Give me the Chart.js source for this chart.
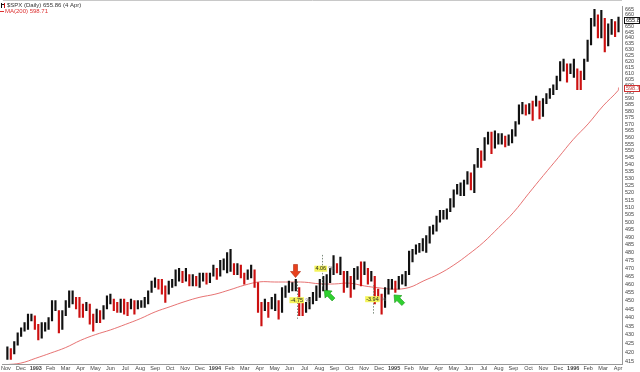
<!DOCTYPE html>
<html>
<head>
<meta charset="utf-8">
<script src="https://cdn.jsdelivr.net/npm/chart.js@4.4.1/dist/chart.umd.min.js"></script>
<style>
  html, body { margin: 0; padding: 0; background: #fff; }
  #wrap { width: 640px; height: 372px; position: relative; }
</style>
</head>
<body>
<div id="wrap"><canvas id="spxCanvas"></canvas></div>
<script>
// weekly high / low of $SPX, week of 2 Nov 1992 up to week of 1 Apr 1996
const weekLows = [
  416, 416, 419, 424, 429, 432, 433, 438, 433, 427, 428, 432, 433, 438, 444, 431, 433, 441, 446, 448,
  445, 440, 440, 444, 436, 432, 437, 437, 439, 445, 448, 444, 443, 443, 442, 441, 445, 442, 445, 446,
  446, 448, 455, 458, 457, 454, 449, 454, 458, 459, 462, 461, 462, 459, 459, 459, 458, 462, 460, 461,
  465, 463, 465, 469, 467, 468, 466, 466, 464, 460, 463, 464, 458, 443, 435, 444, 440, 445, 444, 439,
  443, 452, 455, 456, 456, 441, 441, 443, 445, 448, 450, 452, 456, 456, 461, 466, 467, 466, 455, 458,
  452, 457, 463, 459, 466, 460, 462, 448, 450, 442, 446, 454, 457, 455, 457, 460, 459, 466, 474, 479,
  480, 481, 480, 486, 492, 494, 500, 502, 502, 507, 510, 519, 518, 518, 526, 522, 520, 538, 538, 543,
  555, 548, 552, 555, 555, 553, 554, 556, 561, 570, 578, 577, 578, 573, 584, 574, 576, 586, 590, 593,
  597, 604, 612, 603, 610, 607, 597, 597, 605, 620, 634, 650, 640, 640, 628, 633, 643, 641, 645
];
const weekHighs = [
  423, 422, 426, 431, 434, 437, 442, 442, 441, 436, 437, 437, 440, 450, 450, 444, 444, 450, 456, 456,
  452, 452, 448, 449, 448, 442, 445, 444, 447, 453, 454, 451, 449, 451, 451, 449, 451, 450, 450, 450,
  452, 456, 462, 464, 463, 463, 459, 462, 463, 469, 470, 468, 470, 466, 466, 465, 467, 467, 467, 467,
  472, 470, 475, 476, 480, 482, 473, 473, 472, 467, 469, 472, 469, 461, 449, 451, 449, 452, 454, 450,
  458, 459, 462, 461, 463, 458, 449, 449, 452, 455, 459, 463, 465, 466, 470, 478, 473, 477, 468, 468,
  465, 470, 471, 474, 474, 470, 468, 465, 457, 454, 458, 463, 463, 462, 465, 466, 468, 481, 482, 485,
  486, 489, 491, 497, 498, 504, 508, 508, 509, 516, 522, 526, 527, 529, 535, 534, 540, 552, 550, 560,
  564, 564, 565, 563, 563, 561, 562, 566, 572, 585, 587, 585, 586, 588, 592, 588, 590, 594, 598, 601,
  608, 620, 622, 618, 618, 622, 614, 612, 622, 638, 657, 665, 660, 664, 657, 652, 656, 654, 658
];
// MA(200) read at the first of each month, Nov 1992 .. Apr 1996, then the last bar
const maValues = [
  413.0, 413.9, 416.6, 419.5, 422.6, 426.7, 430.0, 432.7, 435.9, 439.3, 443.3, 446.4,
  449.5, 452.1, 453.9, 456.6, 459.5, 461.5, 461.4, 461.4, 461.3, 460.3, 460.2, 460.7,
  459.0, 457.8, 457.0, 458.0, 462.2, 466.4, 472.0, 478.9, 486.7, 496.3, 506.5, 519.3,
  532.2, 545.1, 558.5, 570.3, 584.2, 596.3, 598.71
];
const xTickLabels = [
  'Nov', 'Dec',
  '1993', 'Feb', 'Mar', 'Apr', 'May', 'Jun', 'Jul', 'Aug', 'Sep', 'Oct', 'Nov', 'Dec',
  '1994', 'Feb', 'Mar', 'Apr', 'May', 'Jun', 'Jul', 'Aug', 'Sep', 'Oct', 'Nov', 'Dec',
  '1995', 'Feb', 'Mar', 'Apr', 'May', 'Jun', 'Jul', 'Aug', 'Sep', 'Oct', 'Nov', 'Dec',
  '1996', 'Feb', 'Mar', 'Apr'
];
const yTicks = [
  415, 420, 425, 430, 435, 440, 445, 450, 455, 460, 465, 470, 475, 480, 485, 490, 495,
  500, 505, 510, 515, 520, 525, 530, 535, 540, 545, 550, 555, 560, 565, 570, 575, 580,
  585, 590, 595, 600, 605, 610, 615, 620, 625, 630, 635, 640, 645, 650, 655, 660, 665
];
const lastClose = 655.86;
const lastMA = 598.71;

// annotations (months from 1 Nov 1992, prices)
const moves = [
  { x: 19.53, from: 461.7, to: 439.2, label: '-4.75', labelY: 450.3 },
  { x: 21.2, from: 458.7, to: 478.5, label: '4.06', labelY: 469.7 },
  { x: 24.6, from: 459.5, to: 441.5, label: '-3.94', labelY: 450.9 }
];
const arrows = [
  { x: 19.4, y: 464.2, dir: Math.PI / 2, color: '#e8401c', edge: '#b02a10' },
  { x: 21.33, y: 456.3, dir: -3 * Math.PI / 4, color: '#2fd12f', edge: '#1b9a1b' },
  { x: 26.0, y: 453.5, dir: -3 * Math.PI / 4, color: '#2fd12f', edge: '#1b9a1b' }
];

const FONT = '"Liberation Sans", Arial, sans-serif';

// week i sits mid-week, in months from 1 Nov 1992
const weekX = weekLows.map((_, i) => 0.1 + i * 7 / 30.44);
const barData = weekLows.map((lo, i) => ({ x: weekX[i], y: [lo, weekHighs[i]] }));
const barColors = weekLows.map((lo, i) => {
  if (i === 0) return '#111';
  const mid = (lo + weekHighs[i]) / 2;
  const prev = (weekLows[i - 1] + weekHighs[i - 1]) / 2;
  return mid < prev ? '#cc1010' : '#111';
});
const maData = maValues.map((v, i) => ({ x: i < 42 ? i : weekX[weekX.length - 1], y: v }));

function drawArrow(ctx, tx, ty, angle, fill, edge) {
  ctx.save();
  ctx.translate(tx, ty);
  ctx.rotate(angle);
  ctx.beginPath();
  ctx.moveTo(0, 0);
  ctx.lineTo(-6, -5);
  ctx.lineTo(-6, -2);
  ctx.lineTo(-13, -2);
  ctx.lineTo(-13, 2);
  ctx.lineTo(-6, 2);
  ctx.lineTo(-6, 5);
  ctx.closePath();
  ctx.fillStyle = fill;
  ctx.fill();
  ctx.strokeStyle = edge;
  ctx.lineWidth = 0.6;
  ctx.stroke();
  ctx.restore();
}

const overlay = {
  id: 'overlay',
  afterDatasetsDraw(chart) {
    const { ctx, chartArea } = chart;
    const xs = chart.scales.x, ys = chart.scales.y;
    ctx.save();

    // dotted measuring lines
    ctx.strokeStyle = '#7d8c7d';
    ctx.lineWidth = 1;
    ctx.setLineDash([1.5, 1.5]);
    moves.forEach(m => {
      const px = Math.round(xs.getPixelForValue(m.x)) + 0.5;
      ctx.beginPath();
      ctx.moveTo(px, ys.getPixelForValue(m.from));
      ctx.lineTo(px, ys.getPixelForValue(m.to));
      ctx.stroke();
    });
    ctx.setLineDash([]);

    // percent labels
    ctx.font = '5.5px ' + FONT;
    ctx.textBaseline = 'middle';
    moves.forEach(m => {
      const px = xs.getPixelForValue(m.x);
      const py = ys.getPixelForValue(m.labelY);
      const w = ctx.measureText(m.label).width;
      const left = px - 8;
      ctx.fillStyle = '#f4f45a';
      ctx.fillRect(left, py - 3, w + 2, 6);
      ctx.fillStyle = '#222';
      ctx.fillText(m.label, left + 1, py);
      ctx.fillStyle = '#666';
      ctx.fillText('%', left + w + 3.5, py);
    });

    arrows.forEach(a => {
      drawArrow(ctx, xs.getPixelForValue(a.x), ys.getPixelForValue(a.y), a.dir, a.color, a.edge);
    });

    // legend text top left
    ctx.font = '6px ' + FONT;
    ctx.fillStyle = '#111';
    ctx.fillRect(1, 3, 1, 5);
    ctx.fillRect(2, 4, 2, 1);
    ctx.fillStyle = '#cc1010';
    ctx.fillRect(4, 3, 1, 5);
    ctx.fillStyle = '#333';
    ctx.fillText('$SPX (Daily) 655.86 (4 Apr)', 7, 5.5);
    ctx.fillStyle = '#dd3030';
    ctx.fillRect(0, 11, 4, 1);
    ctx.fillText('MA(200) 598.71', 5, 11.5);

    // value boxes on the price axis
    const boxLeft = chartArea.right + 2.5;
    [[lastClose, '#111', '#111'], [lastMA, '#d03030', '#c04040']].forEach(([v, stroke, txt]) => {
      const py = Math.round(ys.getPixelForValue(v)) + 0.5;
      ctx.fillStyle = '#fff';
      ctx.fillRect(boxLeft, py - 3, 640 - boxLeft, 6);
      ctx.strokeStyle = stroke;
      ctx.lineWidth = 1;
      ctx.strokeRect(boxLeft, py - 3, 640 - boxLeft - 0.5, 6);
      ctx.font = '5.5px ' + FONT;
      ctx.fillStyle = txt;
      ctx.fillText(v.toFixed(2), boxLeft + 1.5, py + 0.3);
    });

    // top frame line
    ctx.strokeStyle = '#c8c8c8';
    ctx.beginPath();
    ctx.moveTo(chartArea.left, 0.5);
    ctx.lineTo(chartArea.right, 0.5);
    ctx.stroke();
    ctx.restore();
  }
};

const spxChart = new Chart(document.getElementById('spxCanvas').getContext('2d'), {
  type: 'bar',
  data: {
    datasets: [
      {
        type: 'line',
        data: maData,
        borderColor: 'rgba(226, 90, 90, 0.85)',
        borderWidth: 1,
        pointRadius: 0,
        tension: 0.4,
        order: 2
      },
      {
        type: 'bar',
        data: barData,
        backgroundColor: barColors,
        barThickness: 1.5,
        borderWidth: 0,
        order: 1
      }
    ]
  },
  options: {
    animation: false,
    responsive: true,
    maintainAspectRatio: false,
    layout: { padding: 0 },
    plugins: {
      legend: { display: false },
      tooltip: { enabled: false }
    },
    scales: {
      x: {
        type: 'linear',
        min: -0.2,
        max: 41.267,
        offset: false,
        grid: { display: false, drawTicks: false },
        border: { color: '#999' },
        afterBuildTicks: axis => { axis.ticks = xTickLabels.map((_, i) => ({ value: i })); },
        afterFit: axis => { axis.height = 8; },
        ticks: {
          autoSkip: false,
          maxRotation: 0,
          padding: 1,
          color: '#444',
          font: ctx => ({
            family: FONT,
            size: 5.5,
            weight: /^\d/.test(xTickLabels[ctx.index] || '') ? 'bold' : 'normal'
          }),
          callback: (value, index) => xTickLabels[index]
        }
      },
      y: {
        type: 'logarithmic',
        position: 'right',
        min: 413.4,
        max: 667.6,
        grid: { display: false, drawTicks: false },
        border: { color: '#999' },
        afterBuildTicks: axis => { axis.ticks = yTicks.map(v => ({ value: v })); },
        afterFit: axis => { axis.width = 18; },
        ticks: {
          autoSkip: false,
          padding: 3,
          color: '#444',
          font: { family: FONT, size: 5.5 },
          callback: value => String(value)
        }
      }
    }
  },
  plugins: [overlay]
});
</script>
</body>
</html>
